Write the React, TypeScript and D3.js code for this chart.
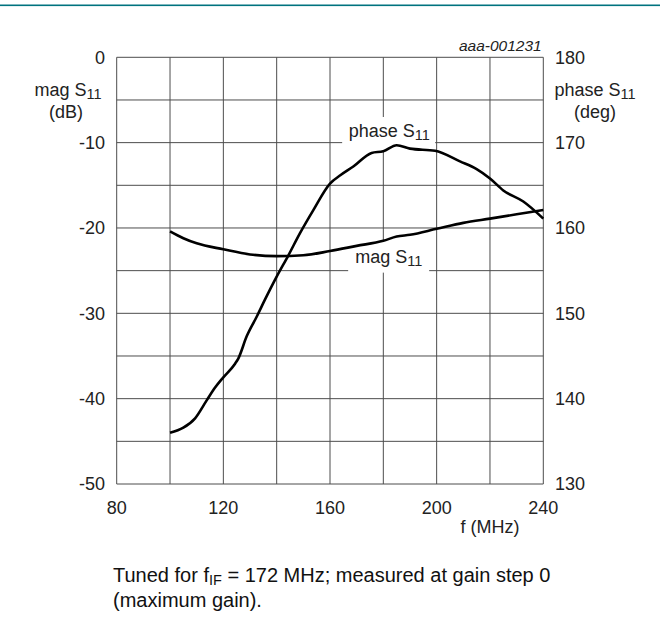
import React from 'react';
import * as d3 from 'd3';

// tick labels
const freqTicks = [80, 120, 160, 200, 240];
const magTicks = [0, -10, -20, -30, -40, -50];
const phaseTicks = [180, 170, 160, 150, 140, 130];

// mag S11 (dB) vs f (MHz)
const magFreq = [100, 105, 110, 120, 130, 140, 150, 160, 170, 180, 185, 190, 200, 210, 220, 230, 240];
const magValues = [-20.4, -21.2, -21.8, -22.5, -23.1, -23.3, -23.2, -22.7, -22.1, -21.5, -21.0, -20.8, -20.1, -19.4, -18.9, -18.4, -17.9];

// phase S11 (deg) vs f (MHz)
const phaseFreq = [100, 105, 109.4, 113.75, 116.9, 120, 124.4, 125.6, 128.75, 132.5, 135.6, 140, 144.4, 148.75, 153.75, 160, 164, 168.75, 175.6, 180, 185, 190, 199.4, 208.75, 215, 220, 225, 232.5, 240];
const phaseValues = [136.0, 136.6, 137.7, 139.8, 141.3, 142.5, 144.1, 144.7, 147.3, 149.6, 151.6, 154.3, 156.8, 159.4, 162.1, 165.2, 166.2, 167.2, 168.8, 169.0, 169.7, 169.3, 169.05, 167.8, 166.9, 165.8, 164.4, 163.1, 161.1];

const W = 660, H = 619;
const margin = { top: 57.3, left: 116.7, right: 543.3, bottom: 484 };
const font = "'Liberation Sans', Arial, Helvetica, sans-serif";
const gridColor = "#4d4d4d";
const fs = 18, subFs = 14.5;

export default function App() {
    const x = d3.scaleLinear().domain([80, 240]).range([margin.left, margin.right]);
    const yMag = d3.scaleLinear().domain([-50, 0]).range([margin.bottom, margin.top]);
    const yPhase = d3.scaleLinear().domain([130, 180]).range([margin.bottom, margin.top]);

    const magLine = d3.line<number>()
        .x((d, i) => x(magFreq[i]))
        .y(d => yMag(d))
        .curve(d3.curveMonotoneX);
    const phaseLine = d3.line<number>()
        .x((d, i) => x(phaseFreq[i]))
        .y(d => yPhase(d))
        .curve(d3.curveMonotoneX);

    const xGrid = d3.range(80, 241, 20);
    const yGrid = d3.range(-50, 1, 5);

    //label boxes sit at f = 182
    const lx = x(182);

    return (
        <div style={{ position: 'absolute', left: 0, top: 0 }}>
            <svg width={W} height={H} style={{ display: 'block', background: '#fff' }} fontFamily={font}>
                <rect x={0} y={4.5} width={W} height={1.6} fill="#00737f" />

                {/* grid */}
                <g stroke={gridColor} strokeWidth={1}>
                    {xGrid.map(f => (
                        <line key={'v' + f} x1={x(f)} x2={x(f)} y1={margin.top} y2={margin.bottom} />
                    ))}
                    {yGrid.map(v => (
                        <line key={'h' + v} x1={margin.left} x2={margin.right} y1={yMag(v)} y2={yMag(v)} />
                    ))}
                </g>

                {/* white boxes behind curve labels */}
                <rect x={lx - 46.5} y={117} width={93} height={33} fill="#fff" />
                <rect x={lx - 40.5} y={yMag(-21.6)} width={81} height={31} fill="#fff" />

                {/* curves */}
                <path d={magLine(magValues) || ''} fill="none" stroke="#000" strokeWidth={2.6} strokeLinejoin="round" />
                <path d={phaseLine(phaseValues) || ''} fill="none" stroke="#000" strokeWidth={2.6} strokeLinejoin="round" />

                {/* curve labels */}
                <text x={lx - 40} y={136.7} fontSize={fs} fill="#222">
                    phase S<tspan fontSize={subFs} dy={3}>11</tspan>
                </text>
                <text x={lx - 33.5} y={263.3} fontSize={fs} fill="#222">
                    mag S<tspan fontSize={subFs} dy={3}>11</tspan>
                </text>

                {/* left axis */}
                {magTicks.map(v => (
                    <text key={'l' + v} x={105} y={yMag(v)} dy="0.36em" textAnchor="end" fontSize={fs} fill="#222">{v}</text>
                ))}
                <text x={68} y={95.5} textAnchor="middle" fontSize={fs} fill="#222">
                    mag S<tspan fontSize={subFs} dy={3}>11</tspan>
                </text>
                <text x={66} y={118} textAnchor="middle" fontSize={fs} fill="#222">(dB)</text>

                {/* right axis */}
                {phaseTicks.map(v => (
                    <text key={'r' + v} x={555} y={yPhase(v)} dy="0.36em" textAnchor="start" fontSize={fs} fill="#222">{v}</text>
                ))}
                <text x={595} y={95.5} textAnchor="middle" fontSize={fs} fill="#222">
                    phase S<tspan fontSize={subFs} dy={3}>11</tspan>
                </text>
                <text x={595} y={118} textAnchor="middle" fontSize={fs} fill="#222">(deg)</text>

                {/* bottom axis */}
                {freqTicks.map(f => (
                    <text key={'b' + f} x={x(f)} y={513.5} textAnchor="middle" fontSize={fs} fill="#222">{f}</text>
                ))}
                <text x={490} y={532.5} textAnchor="middle" fontSize={fs} fill="#222">f (MHz)</text>

                <text x={541.7} y={50.7} textAnchor="end" fontSize={15.5} fontStyle="italic" fill="#222">aaa-001231</text>

                {/* caption */}
                <text x={113} y={582} fontSize={20} fill="#111">
                    Tuned for f<tspan fontSize={14.5} dy={3}>IF</tspan><tspan dy={-3}> = 172 MHz; measured at gain step 0</tspan>
                </text>
                <text x={113} y={607} fontSize={20} fill="#111">(maximum gain).</text>
            </svg>
        </div>
    );
}
